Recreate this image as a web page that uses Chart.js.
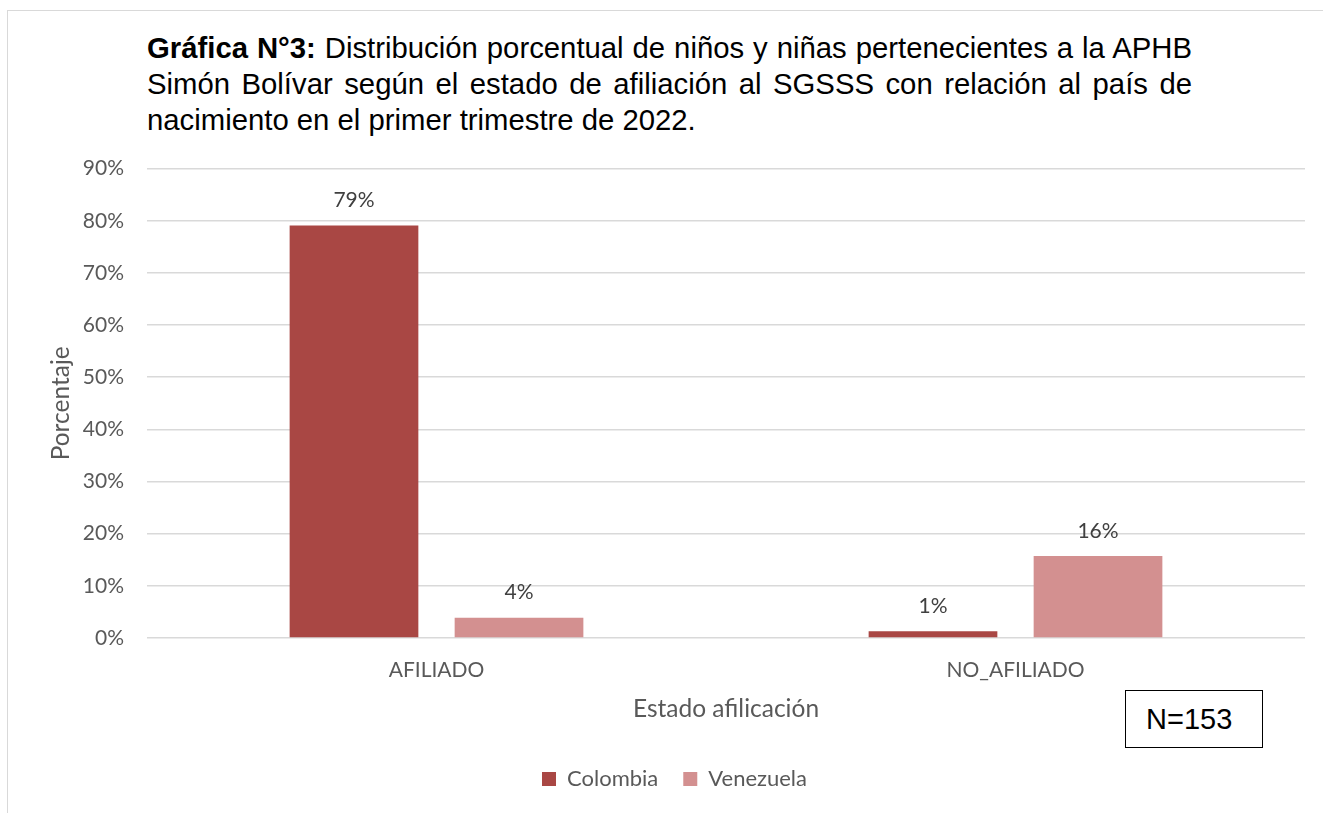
<!DOCTYPE html>
<html>
<head>
<meta charset="utf-8">
<script src="https://cdn.jsdelivr.net/npm/chart.js@4.4.1/dist/chart.umd.min.js"></script>
<style>
  body { margin: 0; background: #fff; }
  #wrap { position: relative; width: 1323px; height: 813px; overflow: hidden; }
  #frame { position: absolute; left: 7px; top: 10px; width: 1400px; height: 900px; border: 1.5px solid #d9d9d9; }
  #title { position: absolute; left: 147px; top: 30px; width: 1045px;
           font-family: "Liberation Sans", Arial, sans-serif; font-size: 29.3px; line-height: 36px; color: #000; }
  #title .ln { white-space: nowrap; text-align: justify; text-align-last: justify; }
  #title .ln.last { text-align-last: left; }
  #nbox { position: absolute; left: 1125px; top: 690px; height: 56px; width: 116px; padding-left: 20px; border: 1.5px solid #000;
          font-family: "Liberation Sans", Arial, sans-serif; font-size: 29px; line-height: 56px; background: #fff; }
  #chartBox { position: absolute; left: 0; top: 133px; width: 1323px; height: 680px; }
</style>
</head>
<body>
<div id="wrap">
  <div id="frame"></div>
  <div id="title">
    <div class="ln"><b>Gráfica N°3:</b> Distribución porcentual de niños y niñas pertenecientes a la APHB</div>
    <div class="ln">Simón Bolívar según el estado de afiliación al SGSSS con relación al país de</div>
    <div class="ln last">nacimiento en el primer trimestre de 2022.</div>
  </div>
  <div id="chartBox"><canvas id="chart" width="1323" height="680"></canvas></div>
  <div id="nbox">N=153</div>
</div>
<script>
  // Data
  const categories = ['AFILIADO', 'NO_AFILIADO'];
  const colombia = [79.1, 1.3];
  const venezuela = [3.9, 15.7];
  const yTicks = [0, 10, 20, 30, 40, 50, 60, 70, 80, 90];

  const font = 'Lato';
  const textColor = '#595959';

  // Draw the % label above each bar
  const barLabels = {
    id: 'barLabels',
    afterDatasetsDraw(chart) {
      const ctx = chart.ctx;
      ctx.save();
      ctx.font = '21px ' + font;
      ctx.fillStyle = '#404040';
      ctx.textAlign = 'center';
      ctx.textBaseline = 'middle';
      chart.data.datasets.forEach((ds, i) => {
        chart.getDatasetMeta(i).data.forEach((bar, j) => {
          ctx.fillText(Math.round(ds.data[j]) + '%', bar.x, bar.y - 25);
        });
      });
      ctx.restore();
    }
  };

  const ctx = document.getElementById('chart').getContext('2d');
  new Chart(ctx, {
    type: 'bar',
    data: {
      labels: categories,
      datasets: [
        { label: 'Colombia', data: colombia, backgroundColor: '#a94744', categoryPercentage: 0.57, barPercentage: 0.78 },
        { label: 'Venezuela', data: venezuela, backgroundColor: '#d39090', categoryPercentage: 0.57, barPercentage: 0.78 }
      ]
    },
    options: {
      responsive: false,
      animation: false,
      layout: { padding: { top: 16, left: 44, right: 18, bottom: 13 } },
      plugins: {
        tooltip: { enabled: false },
        legend: {
          position: 'bottom',
          labels: {
            font: { family: font, size: 22 },
            color: textColor,
            boxWidth: 14,
            boxHeight: 14,
            padding: 25
          }
        }
      },
      scales: {
        x: {
          grid: { display: false },
          border: { display: false },
          ticks: { font: { family: font, size: 21 }, color: textColor, padding: 12 },
          title: { display: true, text: 'Estado afilicación', font: { family: font, size: 24.5 }, color: textColor, padding: { top: 4, bottom: 19 } },
          afterFit(axis) { axis.height = 105; }
        },
        y: {
          min: 0,
          max: 90,
          afterBuildTicks(axis) { axis.ticks = yTicks.map(v => ({ value: v })); },
          grid: { color: '#d9d9d9', lineWidth: 1.5, drawTicks: false },
          border: { display: false },
          ticks: { font: { family: font, size: 21 }, color: textColor, padding: 23, callback: v => v + '%' },
          title: { display: true, text: 'Porcentaje', font: { family: font, size: 24.5 }, color: textColor, padding: { top: 2, bottom: 4 } },
          afterFit(axis) { axis.width = 103; }
        }
      }
    },
    plugins: [barLabels]
  });
</script>
</body>
</html>
